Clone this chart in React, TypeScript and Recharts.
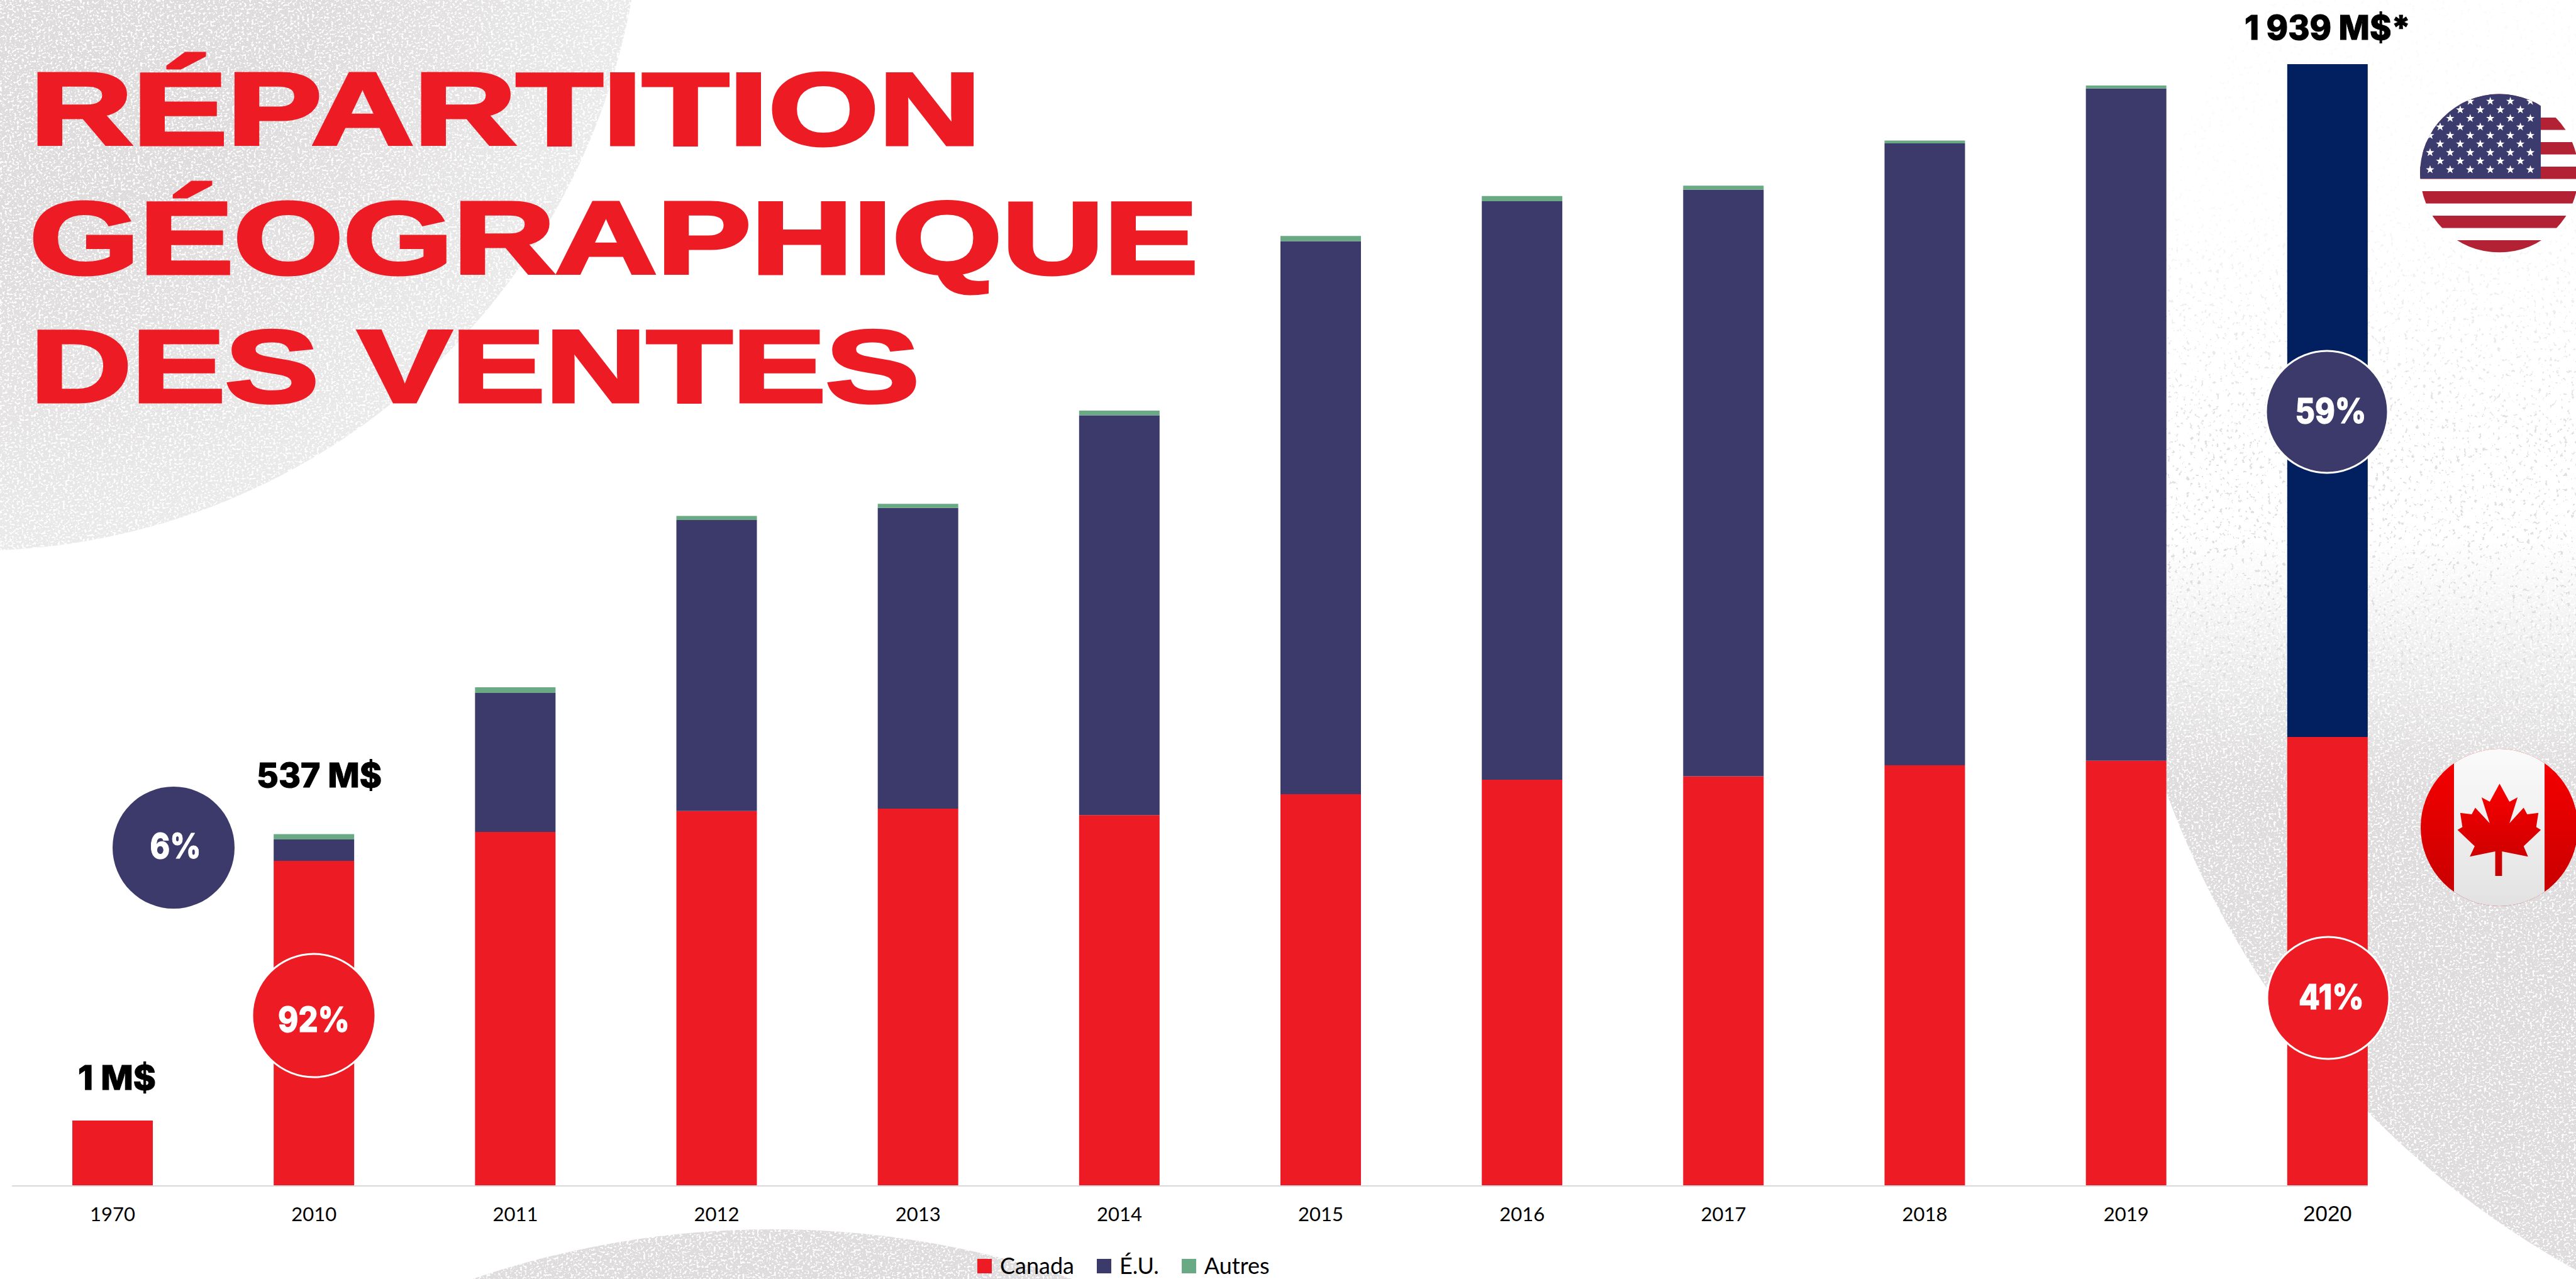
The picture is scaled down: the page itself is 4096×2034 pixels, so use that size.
import { BarChart, Bar, Cell, XAxis, YAxis, Legend, ReferenceLine } from 'recharts';

const WIDTH = 4096;
const HEIGHT = 2034;

const RED = '#ED1C24';
const NAVY = '#3C3A6B';
const NAVY_2020 = '#02205F';
const GREEN = '#69A984';
const BLOB = '#DEDCDD';

const years = ['1970', '2010', '2011', '2012', '2013', '2014', '2015', '2016', '2017', '2018', '2019', '2020'];
// heights, on the scale where the 2020 bar is 1939
const canada = [113, 562, 612, 648, 652, 641, 677, 702, 708, 727, 735, 776];
const us = [0, 37, 240, 503, 520, 691, 956, 1000, 1014, 1075, 1162, 1163];
const others = [0, 9, 10, 7, 7, 8, 9, 9, 7, 5, 5, 0];

const chartData = years.map((year, i) => ({
  year,
  canada: canada[i],
  us: us[i],
  others: others[i],
}));

const titleLines = [
  { text: 'RÉPARTITION', x: 48, y: 230, width: 1512 },
  { text: 'GÉOGRAPHIQUE', x: 47, y: 435, width: 1858 },
  { text: 'DES VENTES', x: 48, y: 639, width: 1414 },
];

const amountLabels = [
  { text: '1 M$', x: 124, y: 1733, width: 124 },
  { text: '537 M$', x: 408, y: 1252, width: 199 },
  { text: '1 939 M$*', x: 3569, y: 63, width: 264 },
];

const bubbles = [
  { text: '6%', cx: 276, cy: 1348, r: 97, fill: NAVY, outline: false, tx: 279, ty: 1365, tw: 81 },
  { text: '92%', cx: 499, cy: 1615, r: 98, fill: RED, outline: true, tx: 499, ty: 1641, tw: 114 },
  { text: '59%', cx: 3700, cy: 655, r: 97, fill: NAVY, outline: true, tx: 3706, ty: 673, tw: 113 },
  { text: '41%', cx: 3702, cy: 1587, r: 97, fill: RED, outline: true, tx: 3707, ty: 1605, tw: 104 },
];

// maple leaf outline, as measured on the zoomed crop of the flag
const leaf = [
  [1294, 233], [1330, 282], [1360, 270], [1330, 340], [1382, 298], [1395, 316], [1436, 312], [1428, 350],
  [1445, 358], [1382, 402], [1398, 430], [1303, 416], [1303, 482], [1278, 482], [1278, 416], [1185, 430],
  [1203, 402], [1140, 358], [1158, 350], [1150, 312], [1192, 316], [1205, 298], [1258, 340], [1228, 270], [1258, 282],
];
const leafPoints = leaf.map(([x, y]) => `${3412 + 0.4347 * x},${1109 + 0.589 * y}`).join(' ');

const stripeTops = [148, 187, 226, 265, 304, 343, 382];

function starPoints(cx: number, cy: number, r: number) {
  const pts = [];
  for (let i = 0; i < 10; i++) {
    const rad = i % 2 === 0 ? r : r * 0.4;
    const a = -Math.PI / 2 + (i * Math.PI) / 5;
    pts.push(`${cx + rad * Math.cos(a)},${cy + rad * Math.sin(a)}`);
  }
  return pts.join(' ');
}

const stars: string[] = [];
for (let row = 0; row < 9; row++) {
  const count = row % 2 === 0 ? 6 : 5;
  const startX = row % 2 === 0 ? 3864 : 3880;
  for (let k = 0; k < count; k++) {
    stars.push(starPoints(startX + k * 31.9, 161 + row * 13.6, 7));
  }
}

function Backdrop() {
  return (
    <svg width={WIDTH} height={HEIGHT} style={{ position: 'absolute', left: 0, top: 0 }}>
      <defs>
        <filter id="dense" filterUnits="userSpaceOnUse" x="0" y="0" width={WIDTH} height={HEIGHT} colorInterpolationFilters="sRGB">
          <feTurbulence type="fractalNoise" baseFrequency="0.26 0.3" numOctaves="3" seed="4" result="n" />
          <feGaussianBlur in="n" stdDeviation="0.7" result="s" />
          <feColorMatrix in="s" type="matrix" values="0 0 0 0 0  0 0 0 0 0  0 0 0 0 0  9 0 0 0 -3.1" result="a" />
          <feComposite in="SourceGraphic" in2="a" operator="in" />
        </filter>
        <filter id="sparse" filterUnits="userSpaceOnUse" x="0" y="0" width={WIDTH} height={HEIGHT} colorInterpolationFilters="sRGB">
          <feTurbulence type="fractalNoise" baseFrequency="0.17" numOctaves="3" seed="9" result="n" />
          <feColorMatrix in="n" type="matrix" values="0 0 0 0 0  0 0 0 0 0  0 0 0 0 0  20 0 0 0 -13.2" result="a" />
          <feComposite in="SourceGraphic" in2="a" operator="in" />
        </filter>
        <radialGradient id="cornerFade" gradientUnits="userSpaceOnUse" cx={-44} cy={-189} r={1065}>
          <stop offset="0.55" stopColor={BLOB} stopOpacity={1} />
          <stop offset="1" stopColor={BLOB} stopOpacity={0.6} />
        </radialGradient>
        <linearGradient id="rightSparse" gradientUnits="userSpaceOnUse" x1="0" y1="300" x2="0" y2="700">
          <stop offset="0" stopColor={BLOB} stopOpacity={0.1} />
          <stop offset="1" stopColor={BLOB} stopOpacity={0.9} />
        </linearGradient>
        <linearGradient id="rightDense" gradientUnits="userSpaceOnUse" x1="0" y1="850" x2="0" y2="1250">
          <stop offset="0" stopColor={BLOB} stopOpacity={0} />
          <stop offset="1" stopColor={BLOB} stopOpacity={1} />
        </linearGradient>
      </defs>
      <circle cx={-44} cy={-189} r={1065} fill="url(#cornerFade)" filter="url(#dense)" />
      <circle cx={4785} cy={770} r={1427} fill="url(#rightSparse)" filter="url(#sparse)" />
      <circle cx={4785} cy={770} r={1427} fill="url(#rightDense)" filter="url(#dense)" />
      <circle cx={1228} cy={3432} r={1477} fill={BLOB} filter="url(#dense)" />
    </svg>
  );
}

function Flags() {
  return (
    <g>
      <defs>
        <clipPath id="usClip">
          <circle cx={3974} cy={275.5} r={126} />
        </clipPath>
        <clipPath id="caClip">
          <circle cx={3974} cy={1316} r={125} />
        </clipPath>
        <linearGradient id="caRed" x1="0" y1="0" x2="0" y2="1">
          <stop offset="0" stopColor="#FA0000" />
          <stop offset="1" stopColor="#C40000" />
        </linearGradient>
        <linearGradient id="caWhite" x1="0" y1="0" x2="0" y2="1">
          <stop offset="0" stopColor="#FBFBFB" />
          <stop offset="1" stopColor="#E2E2E2" />
        </linearGradient>
      </defs>
      <g clipPath="url(#usClip)">
        <rect x={3848} y={149} width={252} height={253} fill="#FFFFFF" />
        {stripeTops.map((y) => (
          <rect key={y} x={3848} y={y} width={252} height={19.6} fill="#B22234" />
        ))}
        <rect x={3848} y={149} width={192} height={135} fill="#3C3B6E" />
        {stars.map((pts) => (
          <polygon key={pts} points={pts} fill="#FFFFFF" />
        ))}
      </g>
      <g clipPath="url(#caClip)">
        <rect x={3849} y={1191} width={250} height={250} fill="url(#caRed)" />
        <rect x={3902} y={1191} width={144} height={250} fill="url(#caWhite)" />
        <polygon points={leafPoints} fill="url(#caRed)" />
      </g>
    </g>
  );
}

function Annotations() {
  return (
    <svg width={WIDTH} height={HEIGHT} style={{ position: 'absolute', left: 0, top: 0, pointerEvents: 'none' }}>
      {titleLines.map((line) => (
        <text
          key={line.text}
          x={line.x}
          y={line.y}
          textLength={line.width}
          lengthAdjust="spacingAndGlyphs"
          fontFamily="Liberation Sans"
          fontWeight={700}
          fontSize={164}
          fill={RED}
          stroke={RED}
          strokeWidth={5}
        >
          {line.text}
        </text>
      ))}
      {amountLabels.map((label) => (
        <text
          key={label.text}
          x={label.x}
          y={label.y}
          textLength={label.width}
          lengthAdjust="spacingAndGlyphs"
          fontFamily="Inter"
          fontWeight={800}
          fontSize={53}
          fill="#000000"
          stroke="#000000"
          strokeWidth={1}
        >
          {label.text}
        </text>
      ))}
      {bubbles.map((b) => (
        <g key={b.text}>
          <circle cx={b.cx} cy={b.cy} r={b.r} fill={b.fill} stroke={b.outline ? '#FFFFFF' : 'none'} strokeWidth={3} />
          <text
            x={b.tx}
            y={b.ty}
            textAnchor="middle"
            textLength={b.tw}
            lengthAdjust="spacingAndGlyphs"
            fontFamily="Inter"
            fontWeight={800}
            fontSize={55}
            fill="#FFFFFF"
            stroke="#FFFFFF"
            strokeWidth={1}
          >
            {b.text}
          </text>
        </g>
      ))}
      <Flags />
    </svg>
  );
}

const YearTick = ({ x, y, payload }: any) => {
  // the last year was pasted in by hand in the original, in a wider face
  const isLast = payload.value === '2020';
  return (
    <text
      x={x}
      y={y + 56}
      textAnchor="middle"
      fontFamily={isLast ? 'Liberation Sans' : 'Lato'}
      fontSize={isLast ? 35 : 31}
      fill="#000000"
    >
      {payload.value}
    </text>
  );
};

const renderLegend = ({ payload }: any) => (
  <div style={{ display: 'flex', gap: 36, alignItems: 'flex-end', fontFamily: 'Lato', fontSize: 36, lineHeight: '40px', color: '#000' }}>
    {payload.map((entry: any) => (
      <div key={entry.value} style={{ display: 'flex', alignItems: 'center', gap: 13 }}>
        <div style={{ width: 23, height: 23, background: entry.color, marginTop: 2 }} />
        <span>{entry.value}</span>
      </div>
    ))}
  </div>
);

const BaseLine = ({ x1, x2, y1 }: any) => (
  // stops at the right edge of the 2020 bar
  <line x1={x1} x2={x2 - 96} y1={y1} y2={y1} stroke="#D9D9D9" strokeWidth={2} />
);

export default function App() {
  return (
    <div style={{ position: 'fixed', left: 0, top: 0, width: WIDTH, height: HEIGHT, background: '#FFFFFF', overflow: 'hidden' }}>
      <Backdrop />
      <div style={{ position: 'absolute', left: 0, top: 0 }}>
        <BarChart
          width={WIDTH}
          height={HEIGHT}
          data={chartData}
          margin={{ top: 102, right: 235, bottom: 0, left: 19 }}
        >
          <XAxis dataKey="year" height={148} axisLine={false} tickLine={false} tickSize={0} tickMargin={0} interval={0} tick={<YearTick />} />
          <YAxis hide domain={[0, 1939]} />
          <Bar dataKey="canada" name="Canada" stackId="sales" fill={RED} barSize={128} isAnimationActive={false} />
          <Bar dataKey="us" name="É.U." stackId="sales" fill={NAVY} barSize={128} isAnimationActive={false}>
            {chartData.map((entry) => (
              <Cell key={entry.year} fill={entry.year === '2020' ? NAVY_2020 : NAVY} />
            ))}
          </Bar>
          <Bar dataKey="others" name="Autres" stackId="sales" fill={GREEN} barSize={128} isAnimationActive={false} />
          <ReferenceLine y={0} shape={<BaseLine />} />
          <Legend
            layout="vertical"
            align="center"
            verticalAlign="middle"
            width={540}
            itemSorter={null}
            content={renderLegend}
            wrapperStyle={{ left: 1554, top: 1992 }}
          />
        </BarChart>
      </div>
      <Annotations />
    </div>
  );
}
